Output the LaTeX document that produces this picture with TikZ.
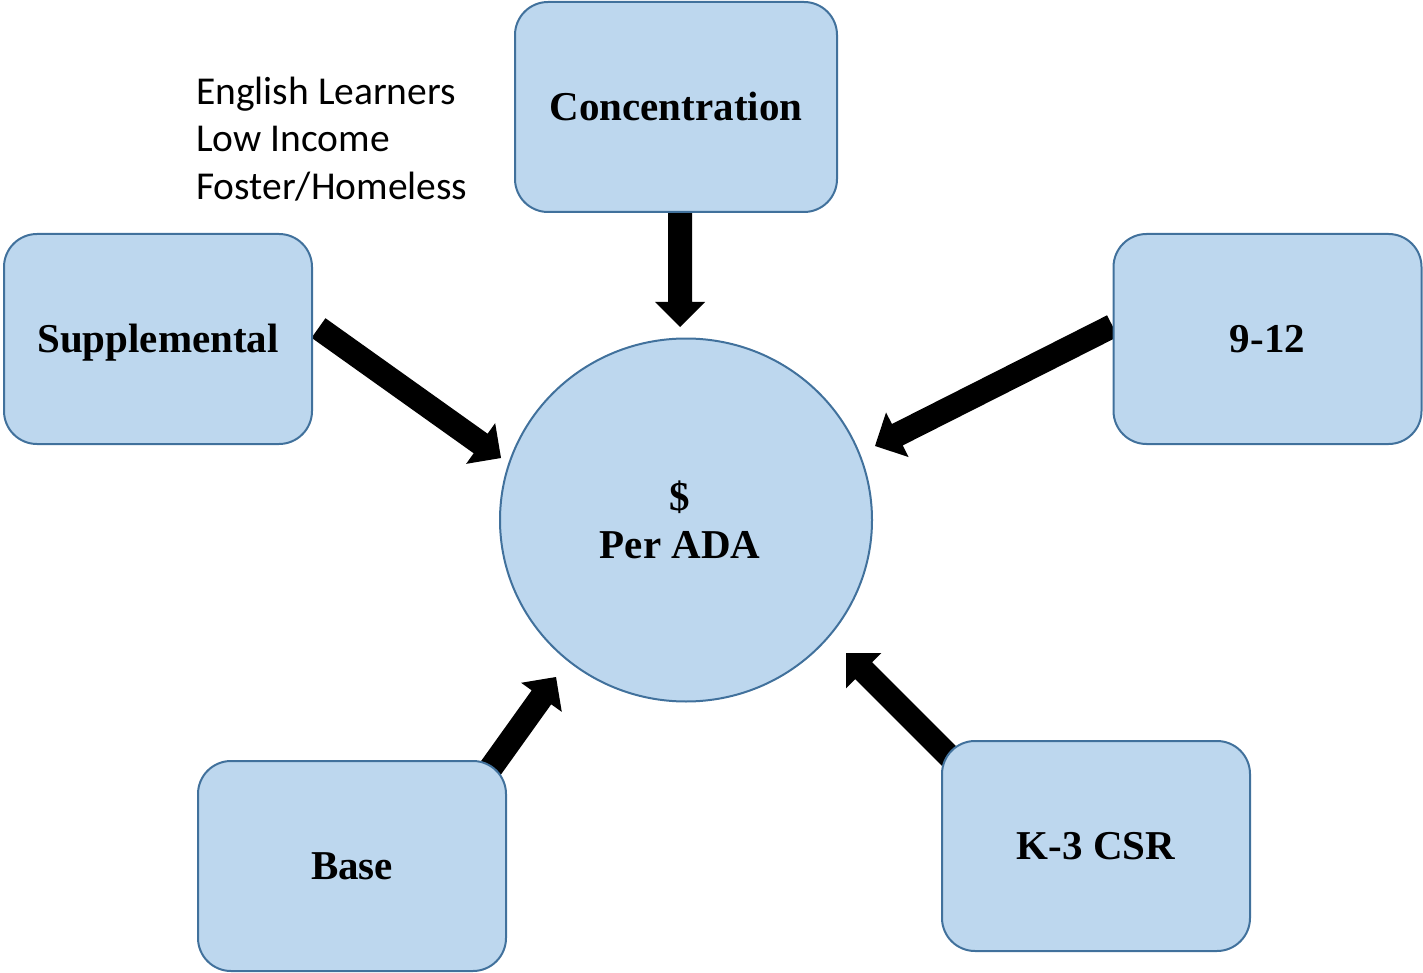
\documentclass[tikz,border=0pt]{standalone}
\usepackage{fontspec}
\setmainfont{Liberation Serif}
\newfontfamily\labelsans{Carlito}
\usetikzlibrary{calc,shapes.geometric,backgrounds}

\definecolor{boxfill}{HTML}{BDD7EE}
\definecolor{boxline}{HTML}{41719C}

\tikzset{
  fundbox/.style={rounded corners=33pt, fill=boxfill, draw=boxline, line width=2pt,
    minimum width=308pt, minimum height=210pt, inner sep=0pt,
    text height=27pt, text depth=0pt,
    font=\fontsize{41}{48}\selectfont\bfseries},
  hub/.style={ellipse, fill=boxfill, draw=boxline, line width=2pt,
    minimum width=372pt, minimum height=363pt, inner sep=0pt},
  hubtext/.style={align=center, inner sep=0pt,
    font=\fontsize{41}{48}\selectfont\bfseries},
  notes/.style={anchor=west, align=left, inner sep=0pt,
    font=\labelsans\fontsize{39.5}{47.5}\selectfont}
}

% block arrow: shaft 24 wide, head 50 wide and 25 long
\newcommand{\blockarrow}[2]{%
  \coordinate (ba-h) at ($(#2)!25pt!(#1)$);
  \fill ($(#1)!12pt!90:(#2)$) -- ($(ba-h)!12pt!90:(#2)$) -- ($(ba-h)!25pt!90:(#2)$)
    -- (#2) -- ($(ba-h)!25pt!-90:(#2)$) -- ($(ba-h)!12pt!-90:(#2)$)
    -- ($(#1)!12pt!-90:(#2)$) -- cycle;
}

\begin{document}
\begin{tikzpicture}[x=1pt, y=-1pt]
\useasboundingbox (0,0) rectangle (1423,973);

% hub and the five funding components
\node[hub] (ada) at (686,520) {};
\node[hubtext] (adatext) at (680,520) {\$\\Per ADA};
\node[fundbox, minimum width=322pt] (conc) at (676,107) {Concentration};
\node[fundbox] (supp) at (158,339) {Supplemental};
\node[fundbox] (hs) at (1267.5,339) {9-12};
\node[fundbox] (base) at (352,866) {Base};
\node[fundbox] (csr) at (1096,846) {K-3 CSR};

\node[notes] (groups) at (196,139) {English Learners\\Low Income\\Foster/Homeless};

% arrow ends
\coordinate (concTail) at (680,205);
\coordinate (concTip)  at (680,327);
\coordinate (suppTail) at (318.5,328);
\coordinate (suppTip)  at (501,458);
\coordinate (hsTail)   at (1112.5,326);
\coordinate (hsTip)    at (875,446);
\coordinate (baseTail) at (488,772);
\coordinate (baseTip)  at (556,677);
\coordinate (csrTail)  at (954,761);
\coordinate (csrTip)   at (846,653);

\begin{pgfonlayer}{background}
  \blockarrow{concTail}{concTip}
  \blockarrow{suppTail}{suppTip}
  \blockarrow{hsTail}{hsTip}
  \blockarrow{baseTail}{baseTip}
  \blockarrow{csrTail}{csrTip}
\end{pgfonlayer}
\end{tikzpicture}
\end{document}
